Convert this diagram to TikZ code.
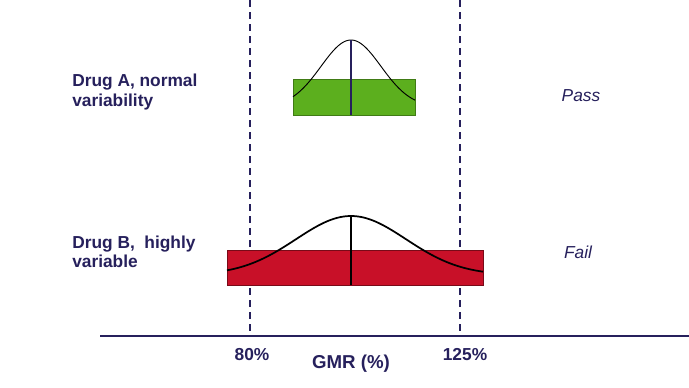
\documentclass[tikz,border=0pt]{standalone}
\usepackage{fontspec}
\setmainfont{Liberation Sans}
\usepackage{tikz}
\usetikzlibrary{positioning}

\definecolor{navy}{RGB}{38,32,92}
\definecolor{drugA}{RGB}{92,175,30}
\definecolor{drugB}{RGB}{200,16,40}

\tikzset{
	label/.style={text=navy,font=\bfseries\fontsize{13}{14.5}\selectfont,inner sep=0pt},
	verdict/.style={text=navy,font=\itshape\fontsize{13}{15}\selectfont,inner sep=0pt},
	limit/.style={navy,line width=1.8pt,dash pattern=on 5.5pt off 3.5pt},
	gauss/.style={black,line width=1.3pt}
}

\begin{document}
\begin{tikzpicture}[x=0.75pt,y=-0.75pt]
	\useasboundingbox (0,0) rectangle (689,387);
	% limits and axis
	\coordinate (lo) at (250,0);
	\coordinate (hi) at (460,0);
	\coordinate (ax0) at (100,336);
	\coordinate (ax1) at (689,336);
	\draw[navy,line width=1.2pt] (ax0) -- (ax1);
	\draw[limit] (lo) -- (lo|-ax0);
	\draw[limit] (hi) -- (hi|-ax0);

	% drug A
	\fill[drugA,draw=drugA!70!black,line width=0.4pt] (293,79) rectangle (415,115);
	\draw[gauss,line width=0.7pt] plot[domain=-58:64,samples=60] ({351+\x},{107-67*exp(-((\x/30)^2)/2)});
	\draw[navy,line width=1.6pt] (351,40) -- (351,115);

	% drug B
	\fill[drugB,draw=drugB!60!black,line width=0.6pt] (227,250) rectangle (483,285);
	\draw[gauss] plot[domain=-124:132,samples=80] ({351+\x},{275-59*exp(-((\x/55)^2)/2)});
	\draw[black,line width=1.2pt] (351,216) -- (351,285);

	\begin{scope}[every node/.style={label}]
		\node[anchor=west,align=left] (drugAtxt) at (72,92) {Drug A, normal\\variability};
		\node[anchor=west,align=left] (drugBtxt) at (72,252) {Drug B,~ highly\\variable};
		\node (lotxt) at (252,355) {80\%};
		\node (hitxt) at (465,355) {125\%};
		\node[font=\bfseries\fontsize{14}{16}\selectfont] (gmr) at (351,364) {GMR (\%)};
	\end{scope}
	\node[verdict] (pass) at (581,96) {Pass};
	\node[verdict] (fail) at (578,252) {Fail};
\end{tikzpicture}
\end{document}
